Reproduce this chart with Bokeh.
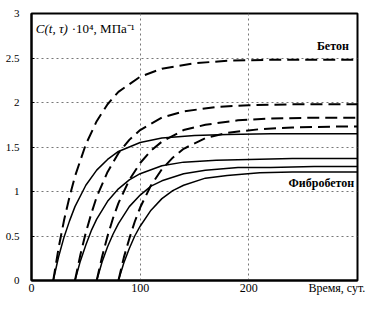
from bokeh.plotting import figure
from bokeh.models import Label, FixedTicker
from bokeh.embed import file_html
from bokeh.resources import INLINE

# Loading ages (days) and creep curves C(t,tau)*10^4, MPa^-1
t20 = [20, 25, 30, 35, 40, 50, 60, 70, 80, 100, 120, 150, 180, 220, 300]
t40 = [40, 45, 50, 55, 60, 70, 80, 90, 100, 120, 140, 170, 200, 240, 300]
t60 = [60, 65, 70, 75, 80, 90, 100, 110, 120, 140, 160, 190, 220, 260, 300]
t80 = [80, 85, 90, 95, 100, 110, 120, 130, 140, 160, 180, 210, 240, 280, 300]

beton20 = [0, 0.37, 0.68, 0.94, 1.17, 1.53, 1.79, 1.98, 2.12, 2.29, 2.38, 2.44, 2.47, 2.48, 2.48]
beton40 = [0, 0.29, 0.54, 0.75, 0.94, 1.22, 1.43, 1.58, 1.69, 1.83, 1.90, 1.95, 1.97, 1.98, 1.98]
beton60 = [0, 0.27, 0.50, 0.70, 0.87, 1.13, 1.32, 1.46, 1.56, 1.69, 1.75, 1.80, 1.82, 1.83, 1.83]
beton80 = [0, 0.26, 0.47, 0.66, 0.82, 1.07, 1.25, 1.38, 1.48, 1.60, 1.66, 1.70, 1.72, 1.73, 1.73]

fibro20 = [0, 0.27, 0.49, 0.67, 0.83, 1.07, 1.24, 1.36, 1.45, 1.55, 1.60, 1.63, 1.64, 1.65, 1.65]
fibro40 = [0, 0.22, 0.40, 0.56, 0.69, 0.89, 1.03, 1.13, 1.20, 1.29, 1.33, 1.35, 1.36, 1.37, 1.37]
fibro60 = [0, 0.21, 0.38, 0.52, 0.64, 0.83, 0.96, 1.06, 1.12, 1.20, 1.24, 1.27, 1.27, 1.28, 1.28]
fibro80 = [0, 0.20, 0.36, 0.50, 0.61, 0.79, 0.92, 1.01, 1.07, 1.15, 1.18, 1.21, 1.22, 1.22, 1.22]

x_ticks = [0, 100, 200, 281]
x_tick_labels = {0: "0", 100: "100", 200: "200", 281: "Время, сут."}
y_ticks = [0, 0.5, 1, 1.5, 2, 2.5, 3]
y_tick_labels = {0: "0", 0.5: "0.5", 1: "1", 1.5: "1.5", 2: "2", 2.5: "2.5", 3: "3"}

FONT = "Liberation Serif"

p = figure(width=365, height=297, x_range=(0, 300), y_range=(0, 3),
           output_backend="svg", toolbar_location=None,
           min_border_left=31, min_border_right=8, min_border_top=13, min_border_bottom=13)

p.outline_line_color = "black"
p.outline_line_width = 2
p.outline_line_alpha = 1

for ax in (p.xaxis[0], p.yaxis[0]):
    ax.axis_line_width = 2
    ax.axis_line_color = "black"
    ax.major_tick_out = 0
    ax.minor_tick_line_color = None
    ax.major_label_text_font = FONT
    ax.major_label_text_font_size = "11px"
    ax.major_label_text_color = "black"

p.xaxis.major_tick_in = 0
p.yaxis.major_tick_in = 3
p.xaxis.ticker = FixedTicker(ticks=x_ticks)
p.xaxis.major_label_overrides = x_tick_labels
p.xaxis.major_label_text_font_size = "12px"
p.yaxis.ticker = FixedTicker(ticks=y_ticks)
p.yaxis.major_label_overrides = y_tick_labels
p.yaxis.major_label_standoff = 12
p.xaxis.major_label_standoff = 0

p.xgrid.ticker = FixedTicker(ticks=[100, 200])
p.ygrid.ticker = FixedTicker(ticks=[0.5, 1, 1.5, 2, 2.5])
for g in (p.xgrid[0], p.ygrid[0]):
    g.grid_line_color = "#777777"
    g.grid_line_dash = "2 3"
    g.grid_line_width = 1

for xs, ys in ((t20, beton20), (t40, beton40), (t60, beton60), (t80, beton80)):
    p.line(xs, ys, line_color="black", line_width=2, line_dash="12 6")

for xs, ys in ((t20, fibro20), (t40, fibro40), (t60, fibro60), (t80, fibro80)):
    p.line(xs, ys, line_color="black", line_width=1.5)

p.add_layout(Label(x=4, y=2.83, text="C(t, τ)", text_font=FONT, text_font_style="italic",
                   text_font_size="13px", text_baseline="middle", text_color="black"))
p.add_layout(Label(x=37, y=2.83, text="·10⁴, МПа⁻¹", text_font=FONT,
                   text_font_size="13px", text_baseline="middle", text_color="black"))
p.add_layout(Label(x=292, y=2.64, text="Бетон", text_font=FONT, text_font_style="bold",
                   text_font_size="12px", text_align="right", text_baseline="middle",
                   text_color="black"))
p.add_layout(Label(x=297, y=1.09, text="Фибробетон", text_font=FONT, text_font_style="bold",
                   text_font_size="12px", text_align="right", text_baseline="middle",
                   text_color="black"))

open("out.html", "w").write(file_html(p, INLINE))
